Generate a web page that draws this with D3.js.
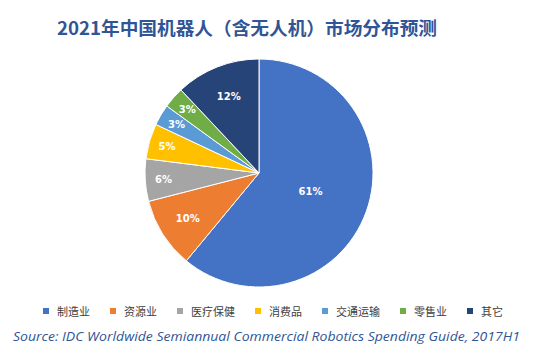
<!DOCTYPE html>
<html><head><meta charset="utf-8">
<script src="https://cdn.jsdelivr.net/npm/d3@7"></script>
<style>body{margin:0;background:#fff}svg{display:block}</style>
</head><body><svg id="c" width="535" height="355"></svg>
<script>
const categories = ["制造业","资源业","医疗保健","消费品","交通运输","零售业","其它"];
const values = [61,10,6,5,3,3,12];
const labels = ["61%","10%","6%","5%","3%","3%","12%"];
const colors = ["#4472C4","#ED7D31","#A5A5A5","#FFC000","#5B9BD5","#70AD47","#264478"];
const title = "2021年中国机器人（含无人机）市场分布预测";
const source = "Source: IDC Worldwide Semiannual Commercial Robotics Spending Guide, 2017H1";

const svg = d3.select("#c");
const cx = 259, cy = 173, R = 114;
svg.append("text").attr("x",57).attr("y",35).attr("textLength",380).attr("lengthAdjust","spacingAndGlyphs")
  .attr("font-family","'Noto Sans CJK SC'").attr("font-weight","bold").attr("font-size",18)
  .attr("fill","#2F5597").text(title);

const pie = d3.pie().sort(null).value(d=>d)(values);
const arc = d3.arc().innerRadius(0).outerRadius(R);
const g = svg.append("g").attr("transform",`translate(${cx},${cy})`);
g.selectAll("path").data(pie).join("path").attr("d",arc)
  .attr("fill",(d,i)=>colors[i]).attr("stroke","#fff").attr("stroke-width",1);
const lr = i => i===0 ? 0.48*R : (i===6 ? 0.72*R : (i===1 ? 0.74*R : 0.84*R));
g.selectAll("text").data(pie).join("text")
  .attr("transform",(d,i)=>{const a=(d.startAngle+d.endAngle)/2; return `translate(${Math.sin(a)*lr(i)},${-Math.cos(a)*lr(i)})`;})
  .attr("text-anchor","middle").attr("dy","0.35em")
  .attr("font-family","'DejaVu Sans'").attr("font-weight","bold").attr("font-size",10)
  .attr("fill","#fff").text((d,i)=>labels[i]);

const lg = svg.append("g");
let x = 43;
categories.forEach((c,i)=>{
  lg.append("rect").attr("x",x).attr("y",308).attr("width",6).attr("height",6).attr("fill",colors[i]);
  lg.append("text").attr("x",x+14).attr("y",315.5).attr("font-family","'Noto Sans CJK SC'")
    .attr("font-size",11).attr("fill","#404040").text(c);
  x += 14 + c.length*11 + 20;
});

svg.append("text").attr("x",13).attr("y",341).attr("textLength",507).attr("lengthAdjust","spacingAndGlyphs")
  .attr("font-family","'Open Sans'").attr("font-style","italic").attr("font-size",12.5)
  .attr("fill","#2F5597").text(source);
</script></body></html>
